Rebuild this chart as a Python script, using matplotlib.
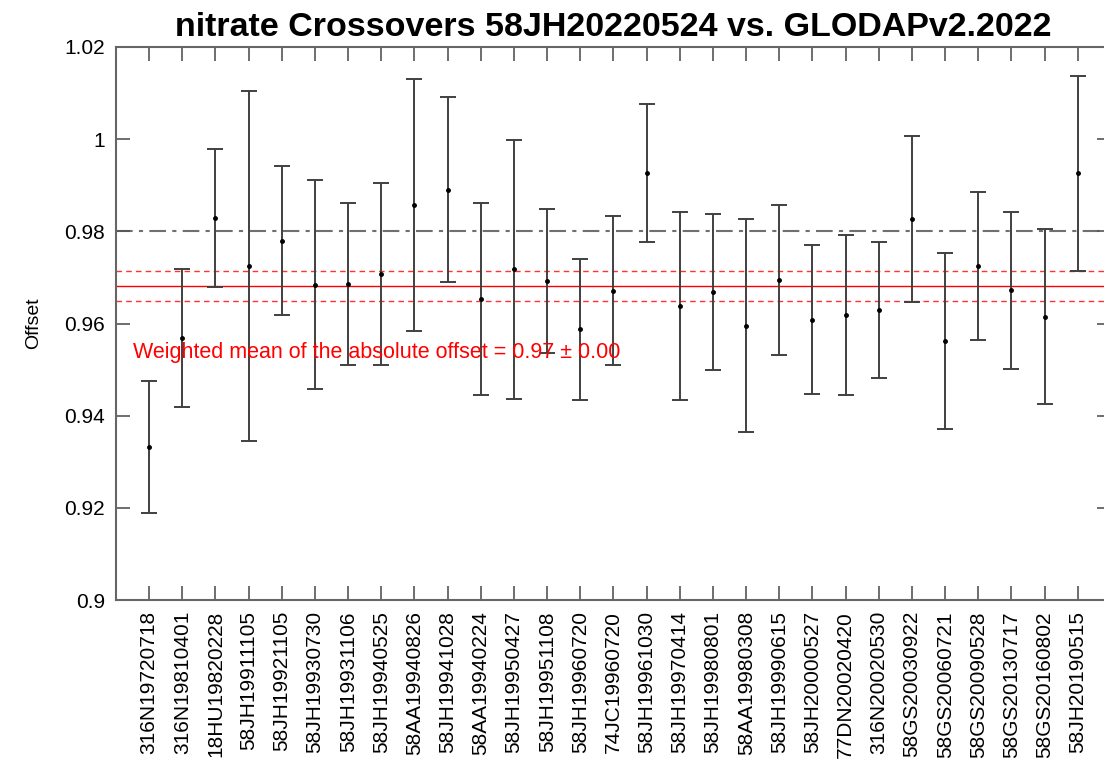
import numpy as np
import matplotlib
matplotlib.use('Agg')
import matplotlib.pyplot as plt

plt.rcParams['font.family'] = ['Liberation Sans', 'DejaVu Sans']

# cruises compared with 58JH20220524
cruises = ['316N19720718', '316N19810401', '18HU19820228', '58JH19911105',
           '58JH19921105', '58JH19930730', '58JH19931106', '58JH19940525',
           '58AA19940826', '58JH19941028', '58AA19940224', '58JH19950427',
           '58JH19951108', '58JH19960720', '74JC19960720', '58JH19961030',
           '58JH19970414', '58JH19980801', '58AA19980308', '58JH19990615',
           '58JH20000527', '77DN20020420', '316N20020530', '58GS20030922',
           '58GS20060721', '58GS20090528', '58GS20130717', '58GS20160802',
           '58JH20190515']
offset = [0.9332, 0.9569, 0.9829, 0.9724, 0.9780, 0.9684, 0.9685, 0.9708,
          0.9857, 0.9890, 0.9653, 0.9718, 0.9693, 0.9587, 0.9671, 0.9927,
          0.9638, 0.9669, 0.9595, 0.9694, 0.9608, 0.9618, 0.9629, 0.9827,
          0.9561, 0.9725, 0.9672, 0.9615, 0.9926]
offset_std = [0.0143, 0.0150, 0.0149, 0.0380, 0.0161, 0.0227, 0.0176, 0.0197,
              0.0273, 0.0201, 0.0209, 0.0281, 0.0156, 0.0152, 0.0162, 0.0150,
              0.0203, 0.0169, 0.0231, 0.0163, 0.0162, 0.0174, 0.0148, 0.0180,
              0.0191, 0.0161, 0.0170, 0.0189, 0.0211]
wmean = 0.9682
wmean_err = 0.0033
ref_line = 0.98

fig = plt.figure(figsize=(11.04, 7.6), dpi=100)
ax = fig.add_axes([116/1104, 1-600/760, (1111-116)/1104, (600-47)/760])

x = np.arange(1, len(cruises)+1)
ax.errorbar(x, offset, yerr=offset_std, fmt='o', color='k', ms=2.5,
            ecolor='#404040', elinewidth=1.4, capsize=6, capthick=1.4, zorder=3)

ax.axhline(ref_line, color='#707070', lw=1.5, ls=(0, (8, 3, 2, 3)), zorder=1)
ax.axhline(wmean, color='red', lw=1, zorder=2)
ax.axhline(wmean + wmean_err, color='red', lw=1, ls=(0, (4, 3)), alpha=0.8, zorder=2)
ax.axhline(wmean - wmean_err, color='red', lw=1, ls=(0, (4, 3)), alpha=0.8, zorder=2)
ax.text(0.5, 0.9536, 'Weighted mean of the absolute offset = %.2f \u00b1 %.2f' % (wmean, wmean_err),
        color='red', fontsize=15.5, va='center', ha='left')

ax.set_xlim(0, 30)
ax.set_ylim(0.9, 1.02)
ax.set_yticks([0.9, 0.92, 0.94, 0.96, 0.98, 1.0, 1.02])
ax.set_yticklabels(['0.9', '0.92', '0.94', '0.96', '0.98', '1', '1.02'])
ax.set_xticks(x)
ax.set_xticklabels(cruises, rotation=90)
ax.tick_params(direction='in', length=10, width=1.2, color='#555555',
               top=True, right=True, labelsize=15, pad=8)
for s in ax.spines.values():
    s.set_color('#666666')
    s.set_linewidth(1.5)
ax.set_ylabel('Offset', fontsize=14, labelpad=16)
ax.set_title('nitrate Crossovers 58JH20220524 vs. GLODAPv2.2022',
             fontsize=24.5, fontweight='bold', pad=8)

fig.savefig('out.png', dpi=100)
